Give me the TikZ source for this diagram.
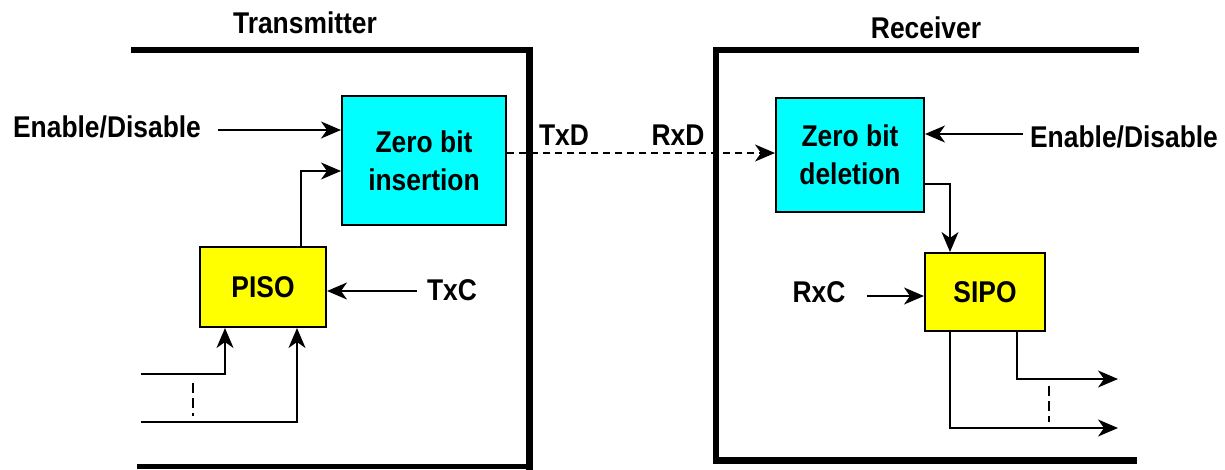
\documentclass[tikz,border=0pt]{standalone}
\usepackage{fontspec}
\newfontfamily\lab{Liberation Sans}[FakeStretch=0.88]
\usetikzlibrary{arrows.meta,calc}
\definecolor{boxcyan}{RGB}{0,255,255}
\definecolor{boxyellow}{RGB}{255,255,0}
\begin{document}
\begin{tikzpicture}[x=1pt,y=-1pt,
  txt/.style={font=\lab\bfseries\fontsize{30}{38}\selectfont},
  lbl/.style={txt, inner sep=0pt, anchor=base},
  blk/.style={txt, draw, line width=2pt, inner sep=0pt, align=center},
  tip/.style={-{Stealth[length=20pt,width=17pt,inset=6pt]}},
  conn/.style={line width=1.4pt, tip},
  dline/.style={line width=1.4pt, dash pattern=on 7pt off 5pt},
  dvert/.style={line width=1.4pt, dash pattern=on 10pt off 5pt},
  frame/.style={line width=6.5pt}]
\useasboundingbox[fill=white] (0,0) rectangle (1225,469);

% transmitter and receiver enclosures
\draw[frame] (131,50) -- (529.5,50) -- (529.5,475);
\draw[line width=5pt] (137,466) -- (529.5,466);
\draw[frame] (1139,50) -- (716,50) -- (716,460.5) -- (1137,460.5);

% section titles
\node[lbl] (ttx) at (305,33) {Transmitter};
\node[lbl] (trx) at (926,38) {Receiver};

% function blocks
\node[blk, fill=boxcyan, minimum width=164pt, minimum height=129pt] (ins) at (424,160.5) {Zero bit\\insertion};
\node[blk, fill=boxyellow, minimum width=126pt, minimum height=80pt] (piso) at (263,287) {PISO};
\node[blk, fill=boxcyan, minimum width=148pt, minimum height=114pt] (del) at (850,155) {Zero bit\\deletion};
\node[blk, fill=boxyellow, minimum width=120pt, minimum height=78pt] (sipo) at (985,292) {SIPO};

% signal labels
\node[lbl] (enl) at (107,137) {Enable/Disable};
\node[lbl] (txc) at (452,300) {TxC};
\node[lbl] (txd) at (564,145) {TxD};
\node[lbl] (rxd) at (678,145) {RxD};
\node[lbl] (enr) at (1124,147) {Enable/Disable};
\node[lbl] (rxc) at (819,302) {RxC};

% attachment points on the blocks
\coordinate (insA) at ($(ins.north west)+(0,35)$);
\coordinate (insB) at ($(ins.north west)+(0,76)$);
\coordinate (insO) at ($(ins.north east)+(0,58)$);
\coordinate (pisoT) at ($(piso.north east)+(-26,0)$);
\coordinate (pisoE) at ($(piso.east)+(0,4)$);
\coordinate (pisoB1) at ($(piso.south west)+(26,0)$);
\coordinate (pisoB2) at ($(piso.south west)+(98,0)$);
\coordinate (delI) at ($(del.north west)+(0,56)$);
\coordinate (delE) at ($(del.north east)+(0,37)$);
\coordinate (delO) at ($(del.south east)+(0,-29)$);
\coordinate (sipoT) at ($(sipo.north west)+(26,0)$);
\coordinate (sipoW) at ($(sipo.west)+(0,4)$);
\coordinate (sipoB1) at ($(sipo.south west)+(26,0)$);
\coordinate (sipoB2) at ($(sipo.south west)+(93,0)$);

% parallel data lines
\coordinate (in1) at (141,374);
\coordinate (in2) at (141,422);
\coordinate (out1) at (1118,379);
\coordinate (out2) at (1118,428);

% transmitter side
\draw[conn, shorten <=17pt] (enl.east |- insA) -- (insA);
\draw[conn] (pisoT) |- (insB);
\draw[conn, shorten <=10pt] (txc.west |- pisoE) -- (pisoE);
\draw[conn] (in1) -| (pisoB1);
\draw[conn] (in2) -| (pisoB2);
\draw[dvert] (193,383) -- (193,416);

% serial link
\draw[dline, tip] (insO) -- (delI);

% receiver side
\draw[conn, shorten <=7pt] (enr.west |- delE) -- (delE);
\draw[conn] (delO) -| (sipoT);
\draw[conn, shorten <=21pt] (rxc.east |- sipoW) -- (sipoW);
\draw[conn] (sipoB2) |- (out1);
\draw[conn] (sipoB1) |- (out2);
\draw[dvert] (1049,386) -- (1049,422);
\end{tikzpicture}
\end{document}
